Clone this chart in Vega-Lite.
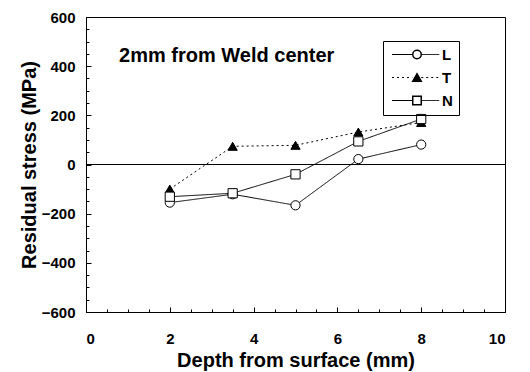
{
  "$schema": "https://vega.github.io/schema/vega-lite/v6.json",
  "width": 419,
  "height": 295,
  "autosize": {"type": "none"},
  "padding": {"left": 86, "top": 17, "right": 25, "bottom": 60},
  "background": "white",
  "config": {
    "font": "Liberation Sans",
    "view": {"stroke": "black", "strokeWidth": 1},
    "axis": {
      "domainColor": "black",
      "tickColor": "black",
      "labelColor": "black",
      "titleColor": "black",
      "labelFont": "Liberation Sans",
      "titleFont": "Liberation Sans",
      "labelFontWeight": "bold",
      "titleFontWeight": "bold",
      "labelFontSize": 15,
      "titleFontSize": 20,
      "grid": false
    }
  },
  "datasets": {
    "stress": [
      {"depth": 2, "stress": -155, "dir": "L"},
      {"depth": 3.5, "stress": -121, "dir": "L"},
      {"depth": 5, "stress": -166, "dir": "L"},
      {"depth": 6.5, "stress": 22, "dir": "L"},
      {"depth": 8, "stress": 81, "dir": "L"},
      {"depth": 2, "stress": -100, "dir": "T"},
      {"depth": 3.5, "stress": 74, "dir": "T"},
      {"depth": 5, "stress": 78, "dir": "T"},
      {"depth": 6.5, "stress": 132, "dir": "T"},
      {"depth": 8, "stress": 171, "dir": "T"},
      {"depth": 2, "stress": -131, "dir": "N"},
      {"depth": 3.5, "stress": -117, "dir": "N"},
      {"depth": 5, "stress": -40, "dir": "N"},
      {"depth": 6.5, "stress": 94, "dir": "N"},
      {"depth": 8, "stress": 185, "dir": "N"}
    ],
    "zero": [{"stress": 0}],
    "note": [{"depth": 0.79, "stress": 443, "text": "2mm from Weld center"}]
  },
  "resolve": {"axis": {"x": "independent", "y": "independent"}},
  "layer": [
    {
      "data": {"name": "zero"},
      "mark": {"type": "rule", "color": "black", "strokeWidth": 1},
      "encoding": {
        "y": {"field": "stress", "type": "quantitative", "scale": {"domain": [-600, 600]}, "axis": null}
      }
    },
    {
      "data": {"name": "note"},
      "mark": {"type": "text", "align": "left", "baseline": "middle", "fontSize": 20, "fontWeight": "bold", "font": "Liberation Sans", "color": "black"},
      "encoding": {
        "x": {"field": "depth", "type": "quantitative", "scale": {"domain": [0, 10]},
          "axis": {"orient": "bottom", "values": [0.5,1,1.5,2.5,3,3.5,4.5,5,5.5,6.5,7,7.5,8.5,9,9.5], "tickSize": -3, "labels": false, "domain": false, "title": null}},
        "y": {"field": "stress", "type": "quantitative", "scale": {"domain": [-600, 600]},
          "axis": {"orient": "left", "values": [-550,-500,-450,-350,-300,-250,-150,-100,-50,50,100,150,250,300,350,450,500,550], "tickSize": -3, "labels": false, "domain": false, "title": null}},
        "text": {"field": "text"}
      }
    },
    {
      "data": {"name": "stress"},
      "mark": {"type": "line", "color": "black", "strokeWidth": 1},
      "encoding": {
        "x": {"field": "depth", "type": "quantitative", "scale": {"domain": [0, 10]},
          "axis": {"orient": "bottom", "values": [0,2,4,6,8,10], "tickSize": -5, "labelPadding": 24, "title": "Depth from surface (mm)", "titlePadding": 4}},
        "y": {"field": "stress", "type": "quantitative", "scale": {"domain": [-600, 600]},
          "axis": {"orient": "left", "values": [-600,-400,-200,0,200,400,600], "tickSize": -5, "labelPadding": 16, "title": "Residual stress (MPa)", "titlePadding": 2}},
        "strokeDash": {
          "field": "dir", "type": "nominal", "sort": ["L", "T", "N"],
          "scale": {"range": [[1, 0], [2, 3], [1, 0]]},
          "legend": {
            "orient": "none", "legendX": 297, "legendY": 24,
            "title": null, "symbolType": "M-1,0H3.5M5.5,0H9.5", "symbolSize": 81,
            "symbolStrokeColor": "black", "symbolStrokeWidth": 1,
            "labelFont": "Liberation Sans", "labelFontSize": 15, "labelFontWeight": "bold", "labelColor": "black",
            "strokeColor": "black", "padding": 6, "rowPadding": 7, "labelOffset": 38
          }
        },
        "detail": {"field": "dir"}
      }
    },
    {
      "data": {"name": "stress"},
      "mark": {"type": "point", "filled": true, "stroke": "black", "strokeWidth": 1, "size": 85, "opacity": 1},
      "encoding": {
        "x": {"field": "depth", "type": "quantitative", "scale": {"domain": [0, 10]}, "axis": null},
        "y": {"field": "stress", "type": "quantitative", "scale": {"domain": [-600, 600]}, "axis": null},
        "shape": {
          "field": "dir", "type": "nominal",
          "scale": {"domain": ["L", "T", "N"], "range": ["circle", "triangle-up", "square"]},
          "legend": {
            "orient": "none", "legendX": 323.5, "legendY": 30,
            "title": null, "symbolSize": 72,
            "labelFontSize": 15, "labelFontWeight": "bold", "labelOpacity": 0, "padding": 0, "rowPadding": 7,
            "encode": {"symbols": {"update": {"fill": {"scale": "fill", "field": "value"}, "stroke": {"value": "black"}, "strokeWidth": {"value": 1}, "opacity": {"value": 1}, "fillOpacity": {"value": 1}, "strokeOpacity": {"value": 1}}}}
          }
        },
        "fill": {
          "field": "dir", "type": "nominal",
          "scale": {"domain": ["L", "T", "N"], "range": ["white", "black", "white"]},
          "legend": null
        }
      }
    }
  ]
}
